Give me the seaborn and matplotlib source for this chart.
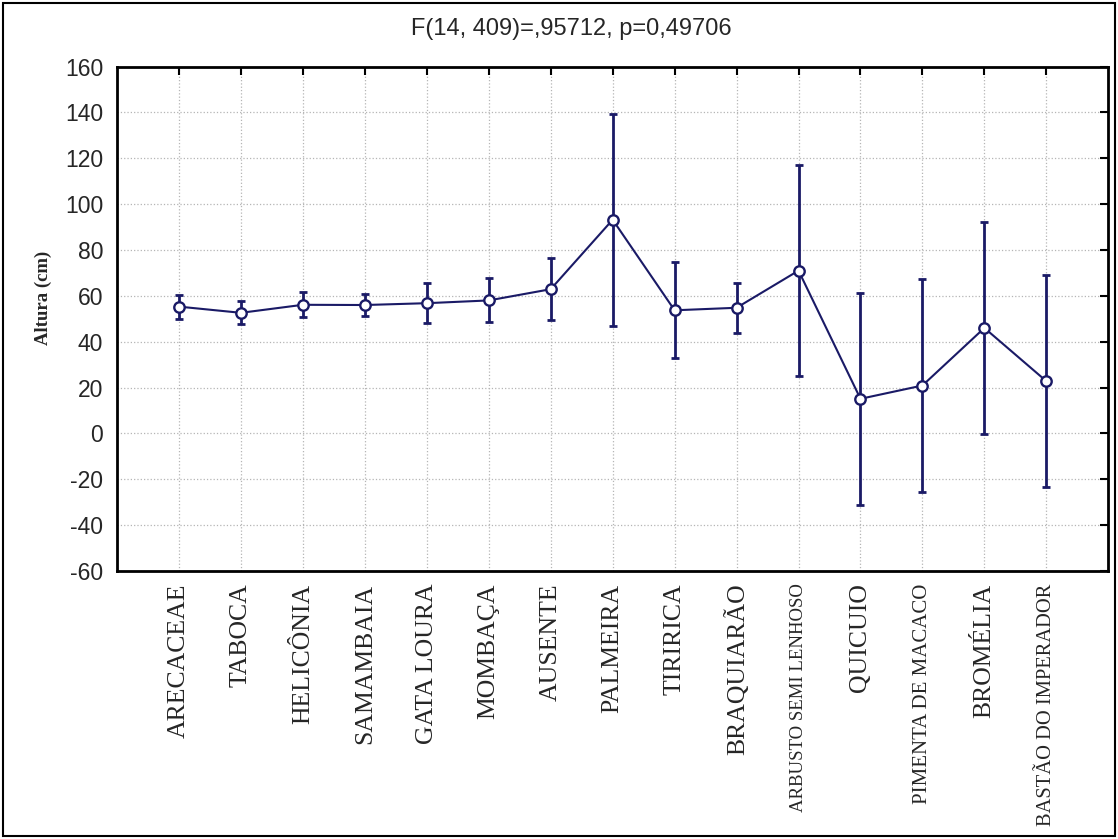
import matplotlib
matplotlib.use('Agg')
import matplotlib.pyplot as plt
import seaborn as sns
import pandas as pd
from matplotlib.patches import Rectangle

# dados
categorias = ['ARECACEAE', 'TABOCA', 'HELICÔNIA', 'SAMAMBAIA', 'GATA LOURA',
              'MOMBAÇA', 'AUSENTE', 'PALMEIRA', 'TIRIRICA', 'BRAQUIARÃO',
              'ARBUSTO SEMI LENHOSO', 'QUICUIO', 'PIMENTA DE MACACO',
              'BROMÉLIA', 'BASTÃO DO IMPERADOR']
medias = [55.3, 52.6, 56.1, 56.0, 56.8, 58.0, 62.9, 93.2, 53.7, 54.8,
          71.0, 15.1, 20.9, 46.0, 22.8]
erros = [5.2, 5.0, 5.5, 4.8, 8.7, 9.6, 13.4, 46.3, 21.0, 10.8,
         46.0, 46.3, 46.4, 46.2, 46.1]
yticks = list(range(-60, 161, 20))
titulo = 'F(14, 409)=,95712, p=0,49706'

# rotulos com fonte menor
tamanho_rotulo = {'ARBUSTO SEMI LENHOSO': 13.5,
                  'PIMENTA DE MACACO': 15,
                  'BASTÃO DO IMPERADOR': 14.8}

df = pd.DataFrame({'categoria': categorias, 'altura': medias, 'erro': erros})

sns.set_style('white')
plt.rcParams['font.family'] = ['Liberation Sans', 'DejaVu Sans']

cor = '#1a1a66'

fig = plt.figure(figsize=(11.18, 8.39), dpi=100)
ax = fig.add_axes([0.1047, 0.3194, 0.8866, 0.6013])

# barras de erro
ax.errorbar(range(len(df)), df['altura'], yerr=df['erro'], fmt='none',
            ecolor=cor, elinewidth=2.0, capsize=3.2, capthick=2.0, zorder=3)

sns.pointplot(data=df, x='categoria', y='altura', ax=ax, color=cor,
              markers='o', markersize=7.5, linewidth=1.5, errorbar=None,
              markerfacecolor='white', markeredgecolor=cor,
              markeredgewidth=1.7, zorder=4)

ax.set_xlim(-1, len(categorias))
ax.set_ylim(-60, 160)
ax.set_yticks(yticks)
ax.set_yticklabels([str(v) for v in yticks], fontsize=16.5)

ax.grid(True, linestyle=':', color='#b5b5b5', linewidth=0.9)
ax.set_axisbelow(True)

for s in ax.spines.values():
    s.set_color('black')
    s.set_linewidth(2)
    s.set_visible(True)

ax.tick_params(direction='in', top=True, right=True, length=6, width=1.5,
               color='black')
ax.tick_params(axis='y', pad=10)
ax.tick_params(axis='x', pad=9)

ax.set_xticks(range(len(categorias)))
ax.set_xticklabels(categorias, rotation=90, family='Liberation Serif',
                   fontsize=18.5, va='top', ha='center')
for lbl in ax.get_xticklabels():
    if lbl.get_text() in tamanho_rotulo:
        lbl.set_fontsize(tamanho_rotulo[lbl.get_text()])

ax.set_xlabel('')
ax.set_ylabel('')
fig.text(0.039, 0.645, 'Altura (cm)', rotation=90, ha='center', va='center',
         family='Liberation Serif', fontweight='bold', fontsize=13.5)
fig.text(0.511, 0.965, titulo, ha='center', va='center', fontsize=17)

# moldura da figura
fig.patches.append(Rectangle((0.003, 0.003), 0.994, 0.994,
                             transform=fig.transFigure, fill=False,
                             edgecolor='black', linewidth=1.5))

fig.savefig('out.png', dpi=100)
